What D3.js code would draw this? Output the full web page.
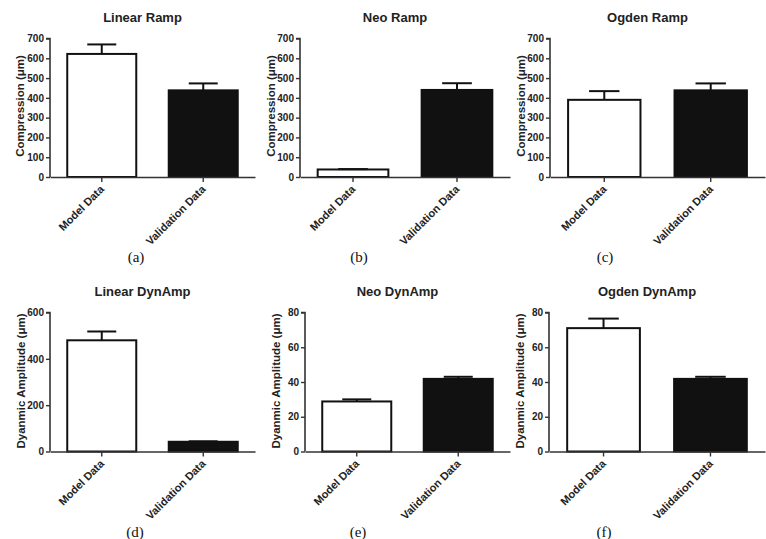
<!DOCTYPE html>
<html>
<head>
<meta charset="utf-8">
<script src="https://cdn.jsdelivr.net/npm/d3@7"></script>
<style>
  html, body { margin: 0; padding: 0; background: #ffffff; }
  svg { display: block; }
  .sans { font-family: "Liberation Sans", Arial, Helvetica, sans-serif; font-weight: bold; }
  .serif { font-family: "Liberation Serif", "Times New Roman", Times, serif; }
</style>
</head>
<body>
<svg id="chart" width="766" height="539"></svg>
<script>
// ---- data ----
const categories = ["Model Data", "Validation Data"];
const panelTitles = ["Linear Ramp", "Neo Ramp", "Ogden Ramp", "Linear DynAmp", "Neo DynAmp", "Ogden DynAmp"];
const panelLetters = ["(a)", "(b)", "(c)", "(d)", "(e)", "(f)"];
const yLabels = ["Compression (\u03bcm)", "Compression (\u03bcm)", "Compression (\u03bcm)",
                 "Dyanmic Amplitude (\u03bcm)", "Dyanmic Amplitude (\u03bcm)", "Dyanmic Amplitude (\u03bcm)"];

const linearRampMean = [622, 438];
const linearRampErr  = [48, 35];
const neoRampMean    = [38, 440];
const neoRampErr     = [2, 34];
const ogdenRampMean  = [390, 438];
const ogdenRampErr   = [44, 35];
const linearDynMean  = [480, 42];
const linearDynErr   = [38, 2];
const neoDynMean     = [28.8, 41.8];
const neoDynErr      = [1.2, 1.2];
const ogdenDynMean   = [71, 41.8];
const ogdenDynErr    = [5.5, 1.2];

const rampTicks = [0, 100, 200, 300, 400, 500, 600, 700];
const linearDynTicks = [0, 200, 400, 600];
const hyperDynTicks = [0, 20, 40, 60, 80];

const means = [linearRampMean, neoRampMean, ogdenRampMean, linearDynMean, neoDynMean, ogdenDynMean];
const errs  = [linearRampErr, neoRampErr, ogdenRampErr, linearDynErr, neoDynErr, ogdenDynErr];
const ticks = [rampTicks, rampTicks, rampTicks, linearDynTicks, hyperDynTicks, hyperDynTicks];

// ---- layout (positions only) ----
const layout = [
  {x0: 50,  x1: 255, yTop: 38.5,  yZero: 177,   ylx: 20,  yly: 106, capX: 136},
  {x0: 300, x1: 510, yTop: 38.5,  yZero: 177,   ylx: 271, yly: 106, capX: 359},
  {x0: 550, x1: 765, yTop: 38.5,  yZero: 177,   ylx: 521, yly: 106, capX: 605},
  {x0: 50,  x1: 255, yTop: 312.5, yZero: 451.5, ylx: 21,  yly: 381, capX: 135},
  {x0: 305, x1: 510, yTop: 312.5, yZero: 451.5, ylx: 276, yly: 381, capX: 358},
  {x0: 549, x1: 765, yTop: 312.5, yZero: 451.5, ylx: 520, yly: 381, capX: 604}
];

const svg = d3.select("#chart");
svg.append("rect").attr("width", 766).attr("height", 539).attr("fill", "#ffffff");

const axisColor = "#333333";

layout.forEach((L, i) => {
  const g = svg.append("g");
  const tk = ticks[i];
  const y = d3.scaleLinear().domain([0, d3.max(tk)]).range([L.yZero, L.yTop]);
  const x = d3.scaleBand().domain(categories).range([L.x0, L.x1]).paddingInner(0.32).paddingOuter(0.17);

  // bars
  g.selectAll("rect.bar").data(categories).enter().append("rect")
    .attr("class", "bar")
    .attr("x", d => x(d))
    .attr("width", x.bandwidth())
    .attr("y", (d, j) => y(means[i][j]))
    .attr("height", (d, j) => L.yZero - y(means[i][j]))
    .attr("fill", (d, j) => j === 0 ? "#ffffff" : "#111111")
    .attr("stroke", "#111111")
    .attr("stroke-width", 2);

  // error bars (upper only)
  const capW = x.bandwidth() * 0.42;
  categories.forEach((c, j) => {
    const cx = x(c) + x.bandwidth() / 2;
    const yt = y(means[i][j] + errs[i][j]);
    const yb = y(means[i][j]);
    g.append("line").attr("x1", cx).attr("x2", cx).attr("y1", yb).attr("y2", yt)
      .attr("stroke", "#111111").attr("stroke-width", 2);
    g.append("line").attr("x1", cx - capW / 2).attr("x2", cx + capW / 2).attr("y1", yt).attr("y2", yt)
      .attr("stroke", "#111111").attr("stroke-width", 2);
  });

  // y axis
  const yAxis = d3.axisLeft(y).tickValues(tk).tickSize(4).tickPadding(2).tickFormat(d3.format("d"));
  const ya = g.append("g").attr("transform", `translate(${L.x0},0)`).call(yAxis);
  ya.attr("font-family", null).attr("font-size", null);
  ya.select(".domain").attr("stroke", axisColor).attr("stroke-width", 1.6).attr("d", `M-4,${L.yTop}H0V${L.yZero}`);
  ya.selectAll(".tick line").attr("stroke", axisColor).attr("stroke-width", 1.4);
  ya.selectAll(".tick text").attr("class", "sans").style("font-size", "10px").attr("fill", "#222");

  // x axis
  const xAxis = d3.axisBottom(x).tickSize(5).tickSizeOuter(0).tickFormat("");
  const xa = g.append("g").attr("transform", `translate(0,${L.yZero})`).call(xAxis);
  xa.attr("font-family", null).attr("font-size", null);
  xa.select(".domain").attr("stroke", axisColor).attr("stroke-width", 1.6);
  xa.selectAll(".tick line").attr("stroke", axisColor).attr("stroke-width", 1.4);
  xa.selectAll(".tick").append("text")
    .attr("class", "sans")
    .attr("transform", "translate(3,13) rotate(-45)")
    .attr("text-anchor", "end")
    .style("font-size", "11px")
    .attr("fill", "#222")
    .text(d => d);

  // y label
  g.append("text")
    .attr("class", "sans")
    .attr("transform", `translate(${L.ylx},${L.yly}) rotate(-90)`)
    .attr("text-anchor", "middle").attr("dy", "0.35em")
    .style("font-size", "11.5px")
    .attr("fill", "#222")
    .text(yLabels[i]);

  // title
  g.append("text")
    .attr("class", "sans")
    .attr("x", (L.x0 + L.x1) / 2 - 10)
    .attr("y", L.yTop - 17)
    .attr("text-anchor", "middle")
    .style("font-size", "13px")
    .attr("fill", "#222")
    .text(panelTitles[i]);

  // panel letter
  g.append("text")
    .attr("class", "serif")
    .attr("x", L.capX)
    .attr("y", L.yZero + 85)
    .attr("text-anchor", "middle")
    .style("font-size", "15px")
    .attr("fill", "#111")
    .text(panelLetters[i]);
});
</script>
</body>
</html>
